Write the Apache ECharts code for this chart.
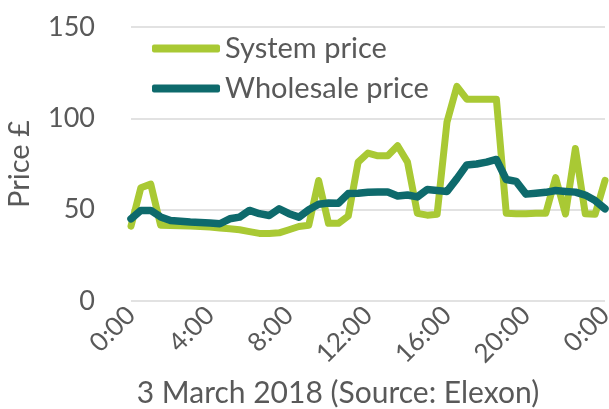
<!DOCTYPE html>
<html>
<head>
<meta charset="utf-8">
<script src="https://cdn.jsdelivr.net/npm/echarts@6/dist/echarts.min.js"></script>
<style>
  html, body { margin: 0; padding: 0; background: #ffffff; }
  #chart { width: 609px; height: 409px; }
</style>
</head>
<body>
<div id="chart"></div>
<script>
// Half-hourly settlement periods for 3 March 2018
const times = [
  '0:00','0:30','1:00','1:30','2:00','2:30','3:00','3:30',
  '4:00','4:30','5:00','5:30','6:00','6:30','7:00','7:30',
  '8:00','8:30','9:00','9:30','10:00','10:30','11:00','11:30',
  '12:00','12:30','13:00','13:30','14:00','14:30','15:00','15:30',
  '16:00','16:30','17:00','17:30','18:00','18:30','19:00','19:30',
  '20:00','20:30','21:00','21:30','22:00','22:30','23:00','23:30',
  '0:00'
];

// System price (£)
const systemPrice = [
  41, 62, 64, 41.5, 41.3, 41.2, 41, 40.8,
  40.5, 40, 39.5, 39, 38, 37, 37, 37.3,
  39, 40.8, 41.5, 66, 42.5, 42.5, 46.5, 76,
  81, 79.5, 79.5, 85, 76, 48, 47, 47.5,
  98, 117.5, 110.5, 110.5, 110.5, 110.5, 48, 47.8,
  47.8, 48, 48, 67.5, 47.6, 83.5, 47.8, 47.5,
  66
];

// Wholesale price (£)
const wholesalePrice = [
  45, 49.6, 49.6, 46, 44.1, 43.6, 43.2, 43,
  42.7, 42.3, 45, 45.9, 49.6, 47.8, 46.8, 50.5,
  47.8, 45.9, 50, 53, 53.6, 53.5, 58.8, 59,
  59.5, 59.7, 59.7, 57.5, 58, 57, 61, 60.5,
  60, 67, 74.5, 75, 76, 77.5, 66.5, 65.5,
  58.5, 59, 59.5, 60.5, 60, 59.6, 58, 55,
  50.5
];

const yTicks = { min: 0, max: 150, interval: 50 };

const textColor = '#595959';
const fontFamily = 'Lato, "Open Sans", sans-serif';

const chart = echarts.init(document.getElementById('chart'), null, { renderer: 'canvas' });

chart.setOption({
  animation: false,
  textStyle: { fontFamily: fontFamily, color: textColor },
  grid: {
    left: 131, right: 4, top: 27, bottom: 108,
    containLabel: false,
    outerBoundsMode: 'none'
  },
  legend: {
    orient: 'vertical',
    left: 147,
    top: 29,
    itemWidth: 68,
    itemHeight: 8,
    itemGap: 11,
    icon: 'roundRect',
    textStyle: { fontSize: 29, color: textColor, fontFamily: fontFamily },
    data: ['System price', 'Wholesale price']
  },
  xAxis: {
    type: 'category',
    data: times,
    boundaryGap: false,
    axisLine: { show: false },
    axisTick: { show: false },
    axisLabel: {
      interval: 7,
      rotate: 45,
      fontSize: 26,
      color: textColor,
      margin: 10
    },
    name: '3 March 2018 (Source: Elexon)',
    nameLocation: 'middle',
    nameGap: 77,
    nameTextStyle: { fontSize: 30, color: textColor, padding: [0, 60, 0, 0] }
  },
  yAxis: {
    type: 'value',
    min: yTicks.min,
    max: yTicks.max,
    interval: yTicks.interval,
    axisLine: { show: false },
    axisTick: { show: false },
    axisLabel: { fontSize: 27, color: textColor, margin: 36 },
    splitLine: { lineStyle: { color: '#d9d9d9', width: 1.5 } },
    name: 'Price £',
    nameLocation: 'middle',
    nameRotate: 90,
    nameGap: 97,
    nameTextStyle: { fontSize: 29, color: textColor }
  },
  series: [
    {
      name: 'System price',
      type: 'line',
      data: systemPrice,
      showSymbol: false,
      symbol: 'none',
      itemStyle: { color: '#a9c934' },
      lineStyle: { color: '#a9c934', width: 7, join: 'round', cap: 'round' }
    },
    {
      name: 'Wholesale price',
      type: 'line',
      data: wholesalePrice,
      showSymbol: false,
      symbol: 'none',
      itemStyle: { color: '#0e6a6c' },
      lineStyle: { color: '#0e6a6c', width: 7.5, join: 'round', cap: 'round' }
    }
  ]
});
</script>
</body>
</html>
